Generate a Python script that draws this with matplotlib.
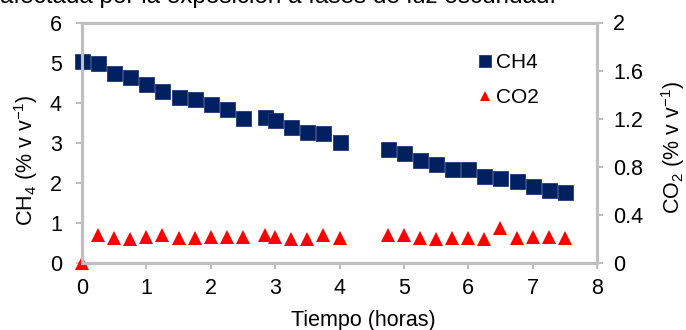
import matplotlib
matplotlib.use('Agg')
import matplotlib.pyplot as plt
from matplotlib.ticker import FuncFormatter

plt.rcParams['font.family'] = ['Liberation Sans', 'DejaVu Sans']
plt.rcParams['mathtext.fontset'] = 'custom'
plt.rcParams['mathtext.rm'] = 'Liberation Sans'
plt.rcParams['mathtext.it'] = 'Liberation Sans'

# datos
tiempo = [0, 0.25, 0.5, 0.75, 1.0, 1.25, 1.5, 1.75, 2.0, 2.25, 2.5, 2.85, 3.0, 3.25, 3.5, 3.75, 4.0,
          4.75, 5.0, 5.25, 5.5, 5.75, 6.0, 6.25, 6.5, 6.75, 7.0, 7.25, 7.5]
ch4 = [5.05, 5.0, 4.73, 4.63, 4.47, 4.29, 4.14, 4.10, 3.96, 3.84, 3.62, 3.64, 3.56, 3.39, 3.28, 3.24, 3.03,
       2.85, 2.74, 2.58, 2.46, 2.35, 2.35, 2.16, 2.12, 2.04, 1.93, 1.82, 1.76]
co2 = [0.0, 0.23, 0.21, 0.20, 0.22, 0.23, 0.21, 0.205, 0.22, 0.22, 0.22, 0.23, 0.22, 0.20, 0.20, 0.23, 0.21,
       0.23, 0.23, 0.21, 0.20, 0.21, 0.21, 0.20, 0.29, 0.205, 0.22, 0.22, 0.21]

x_ticks = [0, 1, 2, 3, 4, 5, 6, 7, 8]
y1_ticks = [0, 1, 2, 3, 4, 5, 6]
y2_ticks = [0, 0.4, 0.8, 1.2, 1.6, 2.0]

gris = '#BFBFBF'
azul = '#002060'
rojo = '#FF0000'

fig = plt.figure(figsize=(6.86, 3.30), dpi=100)
ax = fig.add_axes([82 / 686, 1 - 263 / 330, 515 / 686, 240.5 / 330])
ax2 = ax.twinx()

l1, = ax.plot(tiempo, ch4, linestyle='none', marker='s', markersize=10.8, color=azul,
              markeredgecolor='#1F3A78', markeredgewidth=0.6, label='CH4', clip_on=False)
l2, = ax2.plot(tiempo, co2, linestyle='none', marker='^', markersize=10.5, color=rojo,
               markeredgewidth=0, label='CO2', clip_on=False)

ax.set_xlim(0, 8)
ax.set_ylim(0, 6)
ax2.set_ylim(0, 2)
ax.set_xticks(x_ticks)
ax.set_yticks(y1_ticks)
ax2.set_yticks(y2_ticks)
ax2.yaxis.set_major_formatter(FuncFormatter(lambda v, p: f"{v:g}"))

for a in (ax, ax2):
    for s in a.spines.values():
        s.set_color(gris)
        s.set_linewidth(2.2)
    a.tick_params(colors=gris, labelcolor='black', length=4.5, width=1.5, labelsize=15.5)
ax.tick_params(axis='y', pad=10)
ax.tick_params(axis='x', pad=6.5)
ax2.tick_params(axis='y', pad=7)

ax.set_xlabel('Tiempo (horas)', fontsize=15.5)
ax.xaxis.set_label_coords((363 - 82) / 515, -0.195)
fig.text(26 / 686, 1 - 160 / 330, r'CH$_4$ (% v v$^{-1}$)', rotation=90, ha='center', va='center', fontsize=15.5)
fig.text(673 / 686, 1 - 148 / 330, r'CO$_2$ (% v v$^{-1}$)', rotation=90, ha='center', va='center', fontsize=15.5)

leg = ax2.legend(handles=[l1, l2], loc='upper left', bbox_to_anchor=(0.735, 0.95), frameon=False,
                 fontsize=15, handlelength=0.55, handletextpad=0.25, labelspacing=0.75, markerscale=0.75)

# titulo cortado en la parte superior
fig.text(0.0, 1 - 3 / 330, 'afectada por la exposición a fases de luz oscuridad.', ha='left', va='baseline',
         fontsize=17.5)

fig.savefig('out.png', dpi=100)
